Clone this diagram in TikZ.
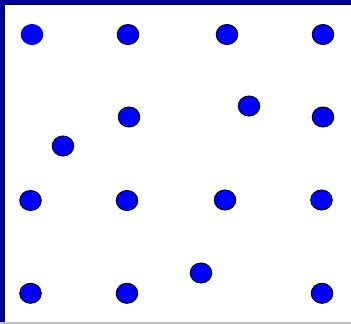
\documentclass[tikz,border=0pt]{standalone}
\usetikzlibrary{shapes.geometric}
\definecolor{bandblue}{RGB}{0,0,160}
\definecolor{dotblue}{RGB}{0,0,255}
\definecolor{edgegray}{RGB}{192,192,192}
\begin{document}
\begin{tikzpicture}[x=1pt,y=-1pt,
  dot/.style={ellipse,fill=dotblue,draw=black,line width=1pt,
    minimum width=21.5pt,minimum height=20pt,inner sep=0pt}]
\useasboundingbox (0,0) rectangle (351,324);
\fill[white] (0,0) rectangle (351,324);

% window frame
\fill[bandblue] (0,0) rectangle (351,3.6);
\fill[bandblue] (0,0) rectangle (4,322);
\draw[black,line width=0.9pt] (4.5,322) -- (4.5,4.2) -- (351,4.2);
\draw[edgegray,line width=1.6pt] (0,323.2) -- (351,323.2);

% top row
\node[dot,draw=dotblue] (a1) at (32,34.5) {};
\node[dot] (a2) at (128,34.5) {};
\node[dot] (a3) at (227,34.5) {};
\node[dot] (a4) at (323,34.5) {};

% second row
\node[dot] (b1) at (63,146) {};
\node[dot] (b2) at (129,117) {};
\node[dot] (b3) at (249,106) {};
\node[dot] (b4) at (323,117) {};

% third row
\node[dot] (c1) at (30.5,200.5) {};
\node[dot] (c2) at (127,200.5) {};
\node[dot] (c3) at (225,200) {};
\node[dot] (c4) at (321.5,200) {};

% bottom row
\node[dot] (d1) at (201,273) {};
\node[dot] (d2) at (30.5,293.3) {};
\node[dot] (d3) at (127,293.3) {};
\node[dot] (d4) at (322,293.3) {};

\end{tikzpicture}
\end{document}
